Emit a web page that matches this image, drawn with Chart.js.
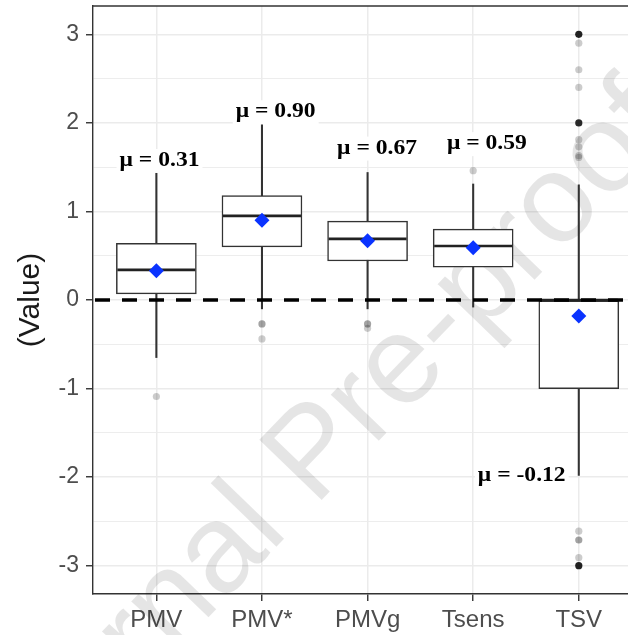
<!DOCTYPE html>
<html>
<head>
<meta charset="utf-8">
<script src="https://cdn.jsdelivr.net/npm/chart.js@4.4.1/dist/chart.umd.min.js"></script>
<style>
  html, body { margin: 0; padding: 0; background: #fff; overflow: hidden; }
  #wrap { width: 628px; height: 635px; position: relative; }
</style>
</head>
<body>
<div id="wrap"><canvas id="myChart"></canvas></div>
<script>
// categories and box plot stats
const categories = ['PMV', 'PMV*', 'PMVg', 'Tsens', 'TSV'];
const whiskerLow  = [-0.65, -0.10, -0.10, -0.08, -1.98];
const q1          = [ 0.07,  0.60,  0.44,  0.37, -1.00];
const median      = [ 0.34,  0.95,  0.69,  0.61,  0.00];
const q3          = [ 0.64,  1.18,  0.89,  0.80,  0.00];
const whiskerHigh = [ 1.44,  1.98,  1.44,  1.31,  1.30];
const means       = [ 0.33,  0.90,  0.67,  0.59, -0.18];

// mean annotations (text, value where it sits, small sideways shift in category units)
const meanLabels = ['\u03bc = 0.31', '\u03bc = 0.90', '\u03bc = 0.67', '\u03bc = 0.59', '\u03bc = -0.12'];
const labelValue = [1.57, 2.12, 1.71, 1.76, -1.99];
const labelShift = [0.03, 0.13, 0.09, 0.13, -0.54];

// outliers: category index, value, how many points overlap there
const outlierCat   = [0, 1, 1, 2, 2, 3, 4, 4, 4, 4, 4, 4, 4, 4, 4, 4, 4, 4, 4];
const outlierVal   = [-1.09, -0.27, -0.44, -0.27, -0.32, 1.46,
                      3.0, 2.9, 2.6, 2.4, 2.0, 1.81, 1.73, 1.63, -2.61, -2.71, -2.91, -3.0, 1.61];
const outlierCount = [1, 2, 1, 2, 1, 1,
                      9, 1, 1, 1, 8, 1, 1, 1, 1, 2, 1, 9, 1];

const yTicks = [-3, -2.5, -2, -1.5, -1, -0.5, 0, 0.5, 1, 1.5, 2, 2.5, 3];

Chart.defaults.font.family = "'Liberation Sans', Arial, sans-serif";

const gridCol = '#ebebeb';
const inkCol = '#333333';

// dashed zero line, top frame, mean labels, watermark
const extras = {
  id: 'extras',
  beforeDatasetsDraw(chart) {
    const ctx = chart.ctx;
    const a = chart.chartArea;
    ctx.save();
    ctx.fillStyle = 'rgba(0,0,0,0.1)';
    ctx.font = "126px 'Liberation Sans', Arial, sans-serif";
    ctx.translate(a.left - 90, a.bottom + 236);
    ctx.rotate(-46 * Math.PI / 180);
    ctx.fillText('Journal Pre-proof', 0, 0);
    ctx.restore();
  },
  afterDatasetsDraw(chart) {
    const ctx = chart.ctx;
    const a = chart.chartArea;
    const x = chart.scales.x, y = chart.scales.y;
    ctx.save();
    // top frame line
    ctx.strokeStyle = inkCol;
    ctx.lineWidth = 1.4;
    ctx.beginPath();
    ctx.moveTo(a.left, a.top);
    ctx.lineTo(a.right, a.top);
    ctx.stroke();
    // dashed reference line at 0
    const y0 = y.getPixelForValue(0);
    ctx.strokeStyle = '#000';
    ctx.lineWidth = 3.5;
    ctx.setLineDash([15, 12]);
    ctx.beginPath();
    ctx.moveTo(a.left + 2, y0);
    ctx.lineTo(a.right, y0);
    ctx.stroke();
    ctx.setLineDash([]);
    // mean labels
    ctx.font = "bold 20px 'Liberation Serif', 'Times New Roman', serif";
    ctx.textAlign = 'center';
    ctx.textBaseline = 'middle';
    const sx = 1.18;
    meanLabels.forEach((t, i) => {
      const px = x.getPixelForValue(i + labelShift[i]);
      const py = y.getPixelForValue(labelValue[i]);
      const w = ctx.measureText(t).width * sx;
      ctx.fillStyle = '#fff';
      ctx.fillRect(px - w / 2 - 3, py - 12, w + 6, 24);
      ctx.fillStyle = '#000';
      ctx.save();
      ctx.translate(px, py);
      ctx.scale(sx, 1);
      ctx.fillText(t, 0, 0);
      ctx.restore();
    });
    ctx.restore();
  }
};

const idx = categories.map((c, i) => i);

const config = {
  type: 'bar',
  data: {
    datasets: [
      {
        // whiskers
        type: 'bar',
        data: idx.map(i => ({ x: i, y: [whiskerLow[i], whiskerHigh[i]] })),
        backgroundColor: inkCol,
        borderWidth: 0,
        barThickness: 1.4,
        grouped: false,
        order: 6
      },
      {
        // boxes
        type: 'bar',
        data: idx.map(i => ({ x: i, y: [q1[i], q3[i]] })),
        backgroundColor: '#ffffff',
        borderColor: inkCol,
        borderWidth: 1.5,
        borderSkipped: false,
        barThickness: 80,
        grouped: false,
        order: 5
      },
      {
        // medians
        type: 'line',
        data: idx.map(i => ({ x: i, y: median[i] })),
        showLine: false,
        pointStyle: 'line',
        pointRadius: 39,
        pointBorderWidth: 2.6,
        pointBorderColor: '#222',
        order: 4
      },
      {
        // outliers
        type: 'line',
        data: outlierVal.map((v, k) => ({ x: outlierCat[k], y: v })),
        showLine: false,
        pointRadius: 3.6,
        pointBorderWidth: 0,
        pointBackgroundColor: outlierCount.map(n => {
          const a = 1 - Math.pow(0.8, n);
          return 'rgba(0,0,0,' + a.toFixed(3) + ')';
        }),
        order: 3
      },
      {
        // means
        type: 'line',
        data: idx.map(i => ({ x: i, y: means[i] })),
        showLine: false,
        pointStyle: 'rectRot',
        pointRadius: 7.5,
        pointBorderWidth: 0,
        pointBackgroundColor: '#0a33ff',
        order: 1
      }
    ]
  },
  options: {
    responsive: true,
    maintainAspectRatio: false,
    animation: false,
    events: [],
    layout: { autoPadding: false, padding: { top: 6, right: 0, left: 0, bottom: 0 } },
    plugins: { legend: { display: false }, tooltip: { enabled: false } },
    scales: {
      x: {
        type: 'linear',
        min: -0.6,
        max: 4.466,
        offset: false,
        afterBuildTicks: s => { s.ticks = idx.map(i => ({ value: i })); },
        afterFit: s => { s.height = 41; s.paddingLeft = 0; s.paddingRight = 0; },
        ticks: {
          autoSkip: false,
          maxRotation: 0,
          padding: 5,
          color: '#4d4d4d',
          font: { size: 24 },
          callback: v => categories[v]
        },
        grid: {
          offset: false,
          color: gridCol,
          lineWidth: 1.5,
          tickColor: inkCol,
          tickLength: 7,
          tickWidth: 1.4
        },
        border: { color: inkCol, width: 1.4 }
      },
      y: {
        min: -3.32,
        max: 3.32,
        afterBuildTicks: s => { s.ticks = yTicks.map(v => ({ value: v })); },
        afterFit: s => { s.width = 93; s.paddingTop = 0; s.paddingBottom = 0; },
        ticks: {
          autoSkip: false,
          padding: 7,
          color: '#4d4d4d',
          font: { size: 23 },
          callback: v => Number.isInteger(v) ? String(v) : ''
        },
        grid: {
          color: gridCol,
          lineWidth: c => Number.isInteger(c.tick.value) ? 1.5 : 0.9,
          tickColor: c => Number.isInteger(c.tick.value) ? inkCol : 'rgba(0,0,0,0)',
          tickLength: 7,
          tickWidth: 1.4
        },
        border: { color: inkCol, width: 1.4 },
        title: {
          display: true,
          text: '(Value)',
          color: '#1a1a1a',
          font: { size: 30 },
          padding: { top: 13, bottom: 0 }
        }
      }
    }
  },
  plugins: [extras]
};

new Chart(document.getElementById('myChart'), config);
</script>
</body>
</html>
